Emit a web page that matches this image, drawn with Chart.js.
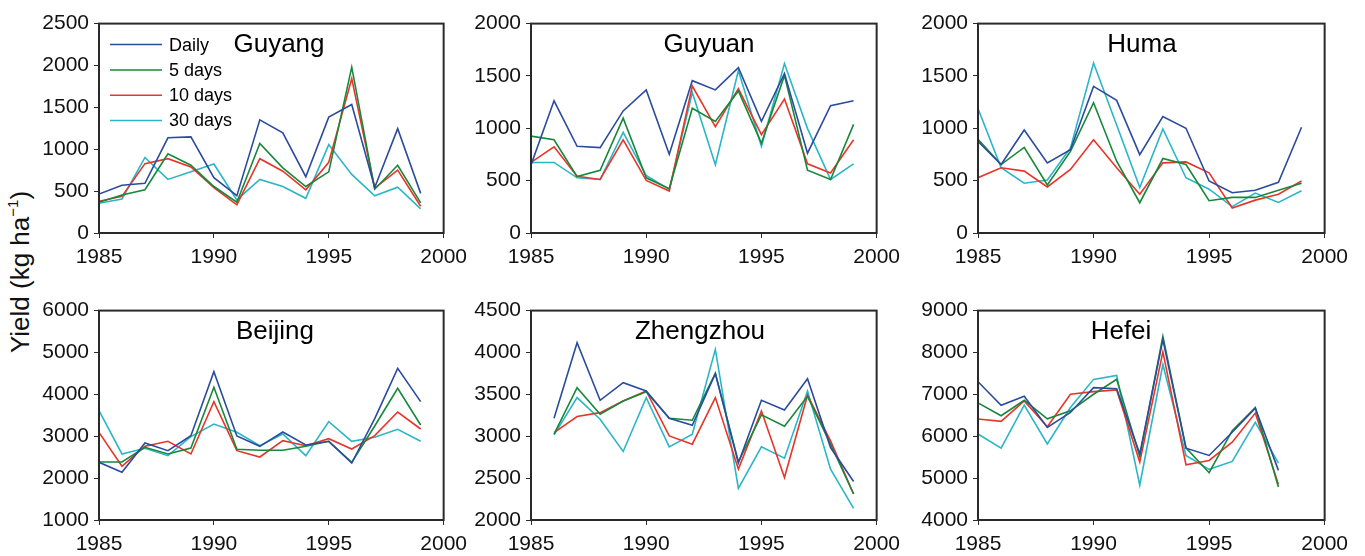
<!DOCTYPE html>
<html><head><meta charset="utf-8">
<script src="https://cdn.jsdelivr.net/npm/chart.js@4.4.0/dist/chart.umd.min.js"></script>
<style>
body{margin:0;background:#fff;width:1365px;height:556px;overflow:hidden;position:relative;font-family:"Liberation Sans",Arial,sans-serif;}
.panel{position:absolute;}
#ylab{position:absolute;left:20px;top:272px;transform:translate(-50%,-50%) rotate(-90deg);font-size:26px;white-space:nowrap;color:#111;line-height:1;}
#ylab sup{font-size:15px;position:relative;top:-2px;vertical-align:top;}
</style></head><body>
<div id="ylab">Yield (kg ha<sup>−1</sup>)</div>
<script>
// ---- data ----
const seriesLabels = ['Daily', '5 days', '10 days', '30 days'];
const seriesColors = ['#2b4c9e', '#17883a', '#e8352a', '#2bb6c6'];

const guyangYears = [1985,1986,1987,1988,1989,1990,1991,1992,1993,1994,1995,1996,1997,1998,1999];
const guyangDaily = [465,570,594,1137,1148,660,445,1351,1195,672,1383,1535,543,1246,473];
const guyang5 = [367,453,516,945,809,555,367,1070,777,555,730,1980,523,809,359];
const guyang10 = [379,437,828,887,789,543,336,887,738,516,844,1844,535,750,320];
const guyang30 = [355,406,902,640,730,824,395,640,555,414,1055,699,445,547,289];

const guyuanYears = [1985,1986,1987,1988,1989,1990,1991,1992,1993,1994,1995,1996,1997,1998,1999];
const guyuanDaily = [650,1263,828,815,1166,1367,752,1455,1367,1580,1066,1524,762,1216,1263];
const guyuan5 = [925,890,539,599,1097,527,423,1191,1066,1357,856,1505,599,511,1038];
const guyuan10 = [674,824,542,511,890,502,401,1404,1016,1379,940,1279,661,574,890];
const guyuan30 = [674,674,527,511,962,549,417,1342,652,1552,828,1618,997,511,661];

const humaYears = [1985,1986,1987,1988,1989,1990,1991,1992,1993,1994,1995,1996,1997,1998,1999];
const humaDaily = [874,654,984,670,796,1400,1267,748,1113,1000,497,384,409,484,1010];
const huma5 = [896,654,818,459,780,1245,686,289,711,654,308,340,340,409,475];
const huma10 = [528,623,591,440,607,890,623,371,670,679,575,239,314,371,497];
const huma30 = [1189,623,475,506,811,1623,1031,434,994,528,418,252,381,292,403];

const beijingYears = [1985,1986,1987,1988,1989,1990,1991,1992,1993,1994,1995,1996,1997,1998,1999];
const beijingDaily = [2377,2138,2839,2656,3014,4542,3006,2759,3101,2791,2879,2361,3420,4622,3826];
const beijing5 = [2385,2385,2735,2576,2719,4168,2688,2664,2664,2759,2879,2377,3245,4144,3269];
const beijing10 = [3093,2282,2759,2879,2576,3826,2656,2504,2894,2775,2942,2695,3014,3579,3173];
const beijing30 = [3611,2576,2711,2536,2990,3292,3093,2775,3054,2536,3348,2879,2974,3165,2879];

const zhengzhouYears = [1986,1987,1988,1989,1990,1991,1992,1993,1994,1995,1996,1997,1998,1999];
const zhengzhouDaily = [3215,4116,3429,3640,3540,3215,3131,3747,2679,3429,3314,3687,2865,2460];
const zhengzhou5 = [3024,3580,3262,3421,3532,3215,3191,3751,2695,3255,3120,3477,2905,2310];
const zhengzhou10 = [3044,3235,3282,3421,3540,3004,2905,3461,2607,3302,2508,3489,2945,2310];
const zhengzhou30 = [3016,3461,3203,2818,3461,2873,3024,4037,2377,2873,2738,3540,2607,2139];

const hefeiYears = [1985,1986,1987,1988,1989,1990,1991,1992,1993,1994,1995,1996,1997,1998];
const hefeiDaily = [7302,6741,6955,6212,6568,7160,7136,5580,8306,5714,5541,6094,6670,5185];
const hefei5 = [6797,6489,6860,6417,6607,7002,7358,5517,8385,5722,5130,6133,6686,4790];
const hefei10 = [6410,6354,6844,6228,7002,7065,7105,5383,8013,5319,5422,5857,6552,4845];
const hefei30 = [6054,5714,6741,5817,6686,7358,7452,4830,7713,5541,5209,5398,6331,5359];

const xTicks = [1985, 1990, 1995, 2000];

// ---- layout ----
const FONT = '"Liberation Sans", Arial, sans-serif';
const YW = 62, PT = 14, PR = 30, XH = 36, PH = 213;

const panels = [
  {title:'Guyang', years:guyangYears, series:[guyangDaily,guyang5,guyang10,guyang30], left:99, top:20, w:345, ymin:0, ymax:2500, step:500, titleX:279, legend:true},
  {title:'Guyuan', years:guyuanYears, series:[guyuanDaily,guyuan5,guyuan10,guyuan30], left:531, top:20, w:346, ymin:0, ymax:2000, step:500, titleX:709},
  {title:'Huma', years:humaYears, series:[humaDaily,huma5,huma10,huma30], left:978, top:20, w:347, ymin:0, ymax:2000, step:500, titleX:1142},
  {title:'Beijing', years:beijingYears, series:[beijingDaily,beijing5,beijing10,beijing30], left:99, top:307, w:345, ymin:1000, ymax:6000, step:1000, titleX:275},
  {title:'Zhengzhou', years:zhengzhouYears, series:[zhengzhouDaily,zhengzhou5,zhengzhou10,zhengzhou30], left:531, top:307, w:346, ymin:2000, ymax:4500, step:500, titleX:700},
  {title:'Hefei', years:hefeiYears, series:[hefeiDaily,hefei5,hefei10,hefei30], left:978, top:307, w:347, ymin:4000, ymax:9000, step:1000, titleX:1121}
];

const framePlugin = {
  id:'frame',
  afterDraw(chart, args, opts){
    const ca = chart.chartArea, ctx = chart.ctx;
    ctx.save();
    ctx.strokeStyle = '#2a2a2a';
    ctx.lineWidth = 2;
    ctx.strokeRect(ca.left, ca.top, ca.right - ca.left, ca.bottom - ca.top);
    ctx.fillStyle = '#000';
    ctx.font = '26px ' + FONT;
    ctx.textAlign = 'center';
    ctx.textBaseline = 'alphabetic';
    ctx.fillText(opts.title, opts.titleX, ca.top + 28);
    if (opts.legend) {
      ctx.font = '18px ' + FONT;
      ctx.textAlign = 'left';
      ctx.textBaseline = 'middle';
      chart.data.datasets.forEach((ds, i) => {
        const y = ca.top + 21 + i * 25.3;
        ctx.strokeStyle = ds.borderColor;
        ctx.lineWidth = 1.5;
        ctx.beginPath();
        ctx.moveTo(ca.left + 11, y);
        ctx.lineTo(ca.left + 63, y);
        ctx.stroke();
        ctx.fillStyle = '#000';
        ctx.fillText(ds.label, ca.left + 70, y + 1);
      });
    }
    ctx.restore();
  }
};

panels.forEach((p, idx) => {
  const div = document.createElement('div');
  div.className = 'panel';
  const dl = p.left - YW, dt = p.top - PT;
  const dw = YW + p.w + PR, dh = PT + PH + XH;
  div.style.left = dl + 'px';
  div.style.top = dt + 'px';
  div.style.width = dw + 'px';
  div.style.height = dh + 'px';
  const cv = document.createElement('canvas');
  cv.width = dw; cv.height = dh;
  cv.style.width = dw + 'px'; cv.style.height = dh + 'px';
  div.appendChild(cv);
  document.body.appendChild(div);

  const tickFont = {family: FONT, size: 21};
  new Chart(cv.getContext('2d'), {
    type: 'line',
    data: {
      datasets: p.series.map((arr, i) => ({
        label: seriesLabels[i],
        data: arr.map((v, j) => ({x: p.years[j], y: v})),
        borderColor: seriesColors[i],
        borderWidth: 1.6,
        pointRadius: 0,
        fill: false,
        tension: 0
      }))
    },
    options: {
      responsive: false,
      animation: false,
      devicePixelRatio: 1,
      layout: {padding: {top: PT, right: PR, left: 0, bottom: 0}},
      plugins: {
        legend: {display: false},
        tooltip: {enabled: false},
        frame: {title: p.title, titleX: p.titleX - dl, legend: !!p.legend}
      },
      scales: {
        x: {
          type: 'linear', min: xTicks[0], max: xTicks[xTicks.length - 1],
          afterBuildTicks: s => { s.ticks = xTicks.map(v => ({value: v})); },
          ticks: {font: tickFont, color: '#111', padding: 7, maxRotation: 0, callback: v => String(v)},
          grid: {display: true, drawOnChartArea: false, drawTicks: true, tickLength: 5, color: '#2a2a2a', lineWidth: 1},
          border: {display: true, color: '#2a2a2a', width: 2},
          afterFit: s => { s.height = XH; }
        },
        y: {
          type: 'linear', min: p.ymin, max: p.ymax,
          ticks: {stepSize: p.step, font: tickFont, color: '#111', padding: 5, callback: v => String(v)},
          grid: {display: true, drawOnChartArea: false, drawTicks: true, tickLength: 5, color: '#2a2a2a', lineWidth: 1},
          border: {display: true, color: '#2a2a2a', width: 2},
          afterFit: s => { s.width = YW; }
        }
      }
    },
    plugins: [framePlugin]
  });
});
</script>
</body></html>
